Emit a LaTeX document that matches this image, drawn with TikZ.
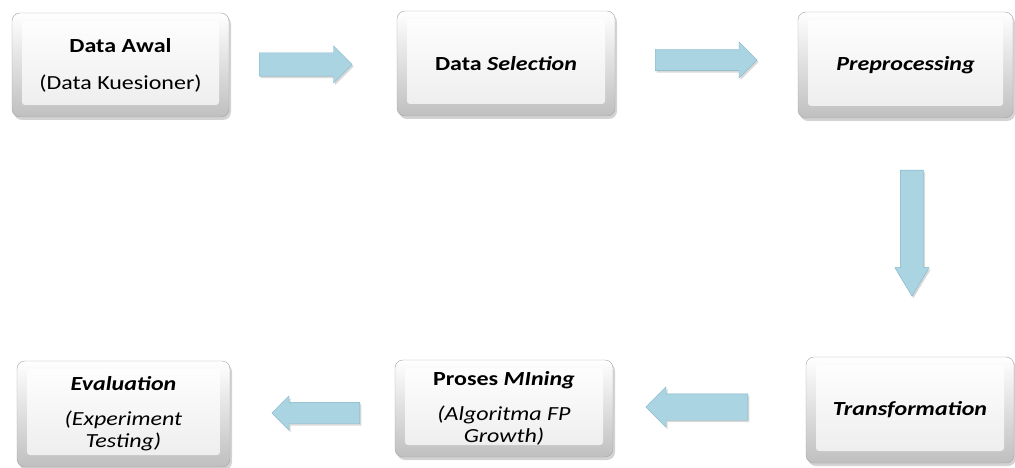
\documentclass[tikz,border=0pt]{standalone}
\usepackage{fontspec}
\setmainfont{Carlito}[FakeStretch=1.2]
\usepackage{xcolor}
\usepackage{tikz}
\usetikzlibrary{positioning,calc,shapes.arrows,shadows}

\definecolor{panahbiru}{RGB}{170,212,226}
\definecolor{garisbiru}{RGB}{128,180,200}

\begin{document}
\begin{tikzpicture}[x=1pt, y=-1pt,
    every node/.style={font=\fontsize{20}{22}\selectfont},
    tahap/.style={rectangle, rounded corners=8pt, draw=gray!70,
        top color=white, bottom color=gray!50, align=center,
        drop shadow={opacity=0.35, shadow xshift=2pt, shadow yshift=-3pt},
        path picture={\shade[top color=white, bottom color=gray!15, rounded corners=3pt]
            ($(path picture bounding box.north west)+(10pt,-8pt)$) rectangle
            ($(path picture bounding box.south east)+(-10pt,12pt)$);}},
    panah/.style={single arrow, draw=garisbiru, fill=panahbiru, inner sep=0pt,
        anchor=tail,
        drop shadow={opacity=0.3, shadow xshift=1.5pt, shadow yshift=-2pt}}]

    \useasboundingbox (0,0) rectangle (1015,468);

    % Nodes
    \node[tahap, minimum width=217pt, minimum height=104pt] (awal) at (120.5,65)
        {\textbf{Data Awal}\\[15pt](Data Kuesioner)};
    \node[tahap, minimum width=218pt, minimum height=105pt] (seleksi) at (506,63.5)
        {\textbf{Data \textit{Selection}}};
    \node[tahap, minimum width=215pt, minimum height=106pt] (pre) at (905.5,65)
        {\textbf{\textit{Preprocessing}}};
    \node[tahap, minimum width=208pt, minimum height=106pt] (trans) at (910,410)
        {\textbf{\textit{Transformation}}};
    \node[tahap, minimum width=218pt, minimum height=97pt] (mining) at (504,408.5)
        {\textbf{Proses \textit{MIning}}\\[13pt]\textit{(Algoritma FP}\\\textit{Growth)}};
    \node[tahap, minimum width=213pt, minimum height=106pt] (eval) at (123.5,414)
        {\textbf{\textit{Evaluation}}\\[13pt]\textit{(Experiment}\\\textit{Testing)}};

    % Arrows (placed by their tails)
    \node[panah, minimum height=93pt, minimum width=37pt, inner ysep=11.5pt,
        single arrow head extend=7pt] (p1) at (259,64.5) {};
    \node[panah, minimum height=102pt, minimum width=36pt, inner ysep=10.5pt,
        single arrow head extend=7.5pt] (p2) at (655,60) {};
    \node[panah, minimum height=126pt, minimum width=34pt, inner xsep=11.5pt,
        single arrow head extend=5.5pt, single arrow tip angle=62,
        shape border rotate=270] (p3) at (912,170) {};
    \node[panah, minimum height=102pt, minimum width=40pt, inner ysep=13pt,
        single arrow head extend=7pt, shape border rotate=180] (p4) at (748,407) {};
    \node[panah, minimum height=88pt, minimum width=34pt, inner ysep=10.5pt,
        single arrow head extend=6.5pt, shape border rotate=180] (p5) at (360,413) {};
\end{tikzpicture}
\end{document}
